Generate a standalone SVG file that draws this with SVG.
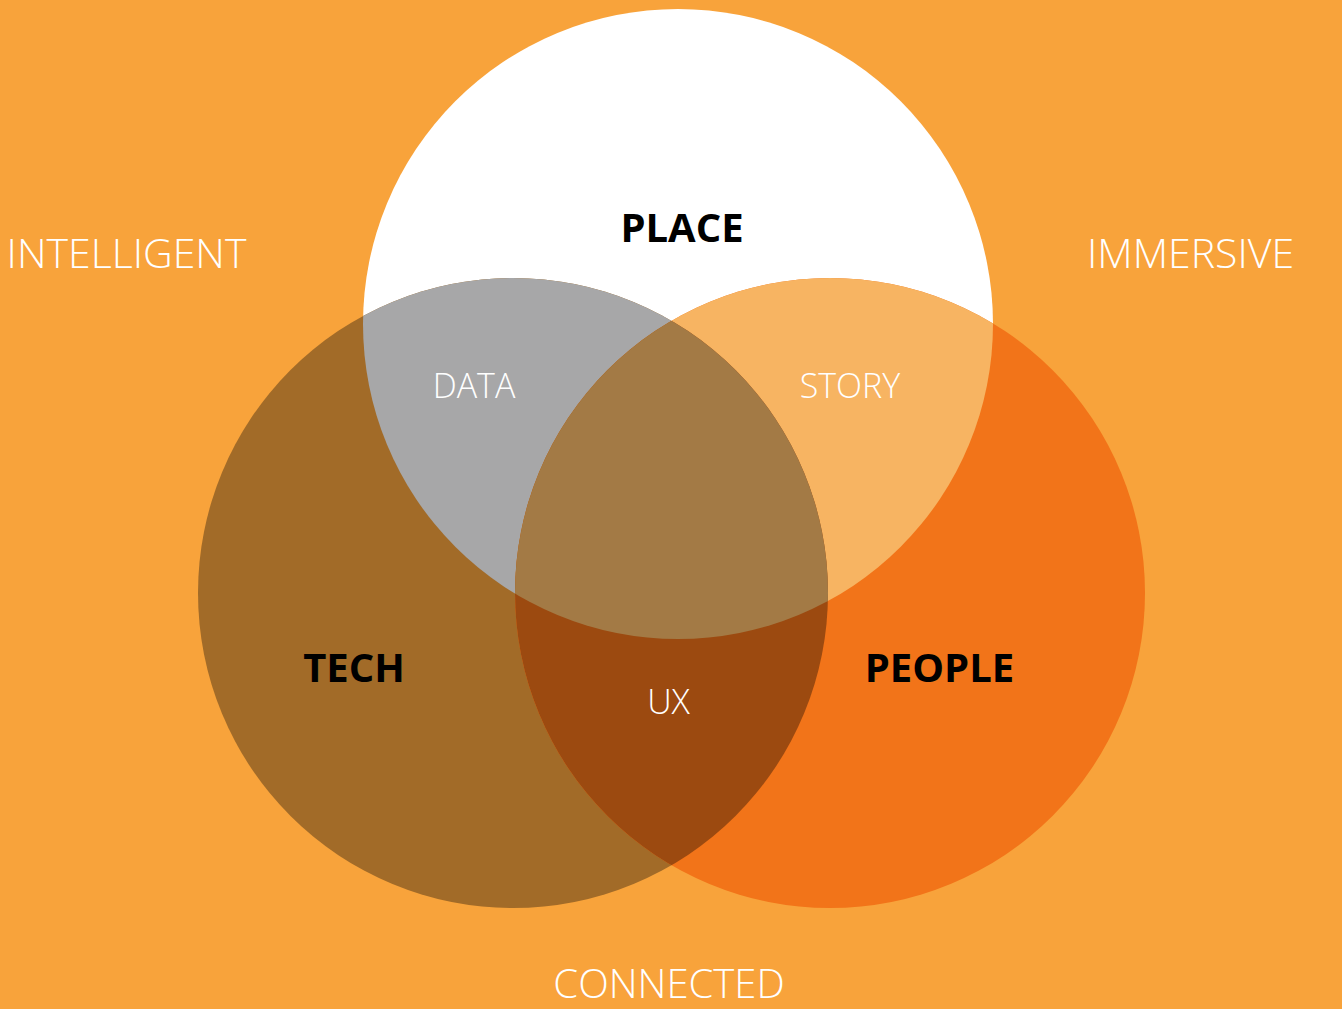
<svg xmlns="http://www.w3.org/2000/svg" width="1342" height="1009" viewBox="0 0 1342 1009">
<style>
.lt{font-family:"Open Sans","Noto Sans",sans-serif;font-weight:300;fill:#ffffff;text-anchor:middle}
.bd{font-family:"Open Sans","Noto Sans",sans-serif;font-weight:700;fill:#000000;text-anchor:middle}
</style>
<defs>
<clipPath id="cPlace"><circle cx="678" cy="324" r="315"/></clipPath>
<clipPath id="cTech"><circle cx="513" cy="593" r="315"/></clipPath>
<clipPath id="cPeople"><circle cx="830" cy="593" r="315"/></clipPath>
</defs>
<rect width="1342" height="1009" fill="#F8A33B"/>
<g id="place"><circle cx="678" cy="324" r="315" fill="#FFFFFF"/></g>
<g id="tech"><circle cx="513" cy="593" r="315" fill="#A26B28"/></g>
<g id="people"><circle cx="830" cy="593" r="315" fill="#F27419"/></g>
<g id="data" clip-path="url(#cPlace)"><circle cx="513" cy="593" r="315" fill="#A7A7A8"/></g>
<g id="story" clip-path="url(#cPlace)"><circle cx="830" cy="593" r="315" fill="#F7B462"/></g>
<g id="ux" clip-path="url(#cTech)"><circle cx="830" cy="593" r="315" fill="#9C4A10"/></g>
<g id="center" clip-path="url(#cTech)"><g clip-path="url(#cPlace)"><circle cx="830" cy="593" r="315" fill="#A37A45"/></g></g>
<g id="connectors"></g>
<g id="labels">
<text class="lt" x="126.5" y="268" font-size="41">INTELLIGENT</text>
<text class="lt" x="1190.5" y="268" font-size="41">IMMERSIVE</text>
<text class="lt" x="669" y="998" font-size="40">CONNECTED</text>
<text class="bd" x="682" y="242" font-size="40">PLACE</text>
<text class="bd" x="354" y="682" font-size="40">TECH</text>
<text class="bd" x="939.5" y="682" font-size="40">PEOPLE</text>
<text class="lt" x="474" y="398" font-size="34">DATA</text>
<text class="lt" x="850" y="398" font-size="34">STORY</text>
<text class="lt" x="668.5" y="714" font-size="34">UX</text>
</g>
</svg>
